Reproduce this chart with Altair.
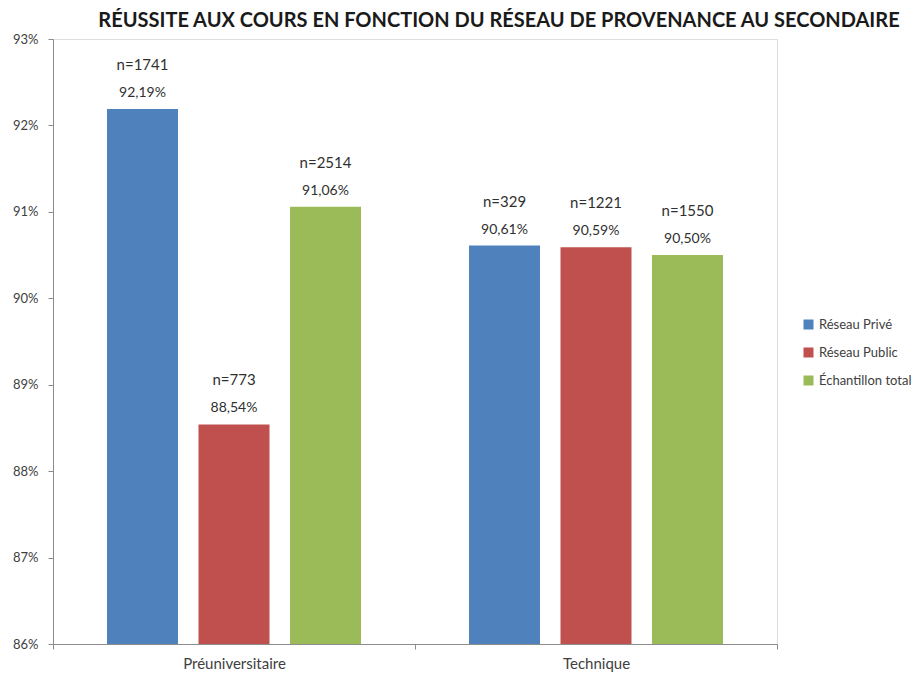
import altair as alt
import pandas as pd

programmes = ["Préuniversitaire", "Préuniversitaire", "Préuniversitaire",
              "Technique", "Technique", "Technique"]
series = ["Réseau Privé", "Réseau Public", "Échantillon total",
          "Réseau Privé", "Réseau Public", "Échantillon total"]
taux = [92.19, 88.54, 91.06, 90.61, 90.59, 90.50]
n_labels = ["n=1741", "n=773", "n=2514", "n=329", "n=1221", "n=1550"]
pct_labels = ["92,19%", "88,54%", "91,06%", "90,61%", "90,59%", "90,50%"]

programme_order = ["Préuniversitaire", "Technique"]
series_order = ["Réseau Privé", "Réseau Public", "Échantillon total"]
series_colors = ["#4F81BD", "#C0504D", "#9BBB59"]
y_ticks = [86, 87, 88, 89, 90, 91, 92, 93]
title_text = ["RÉUSSITE AUX COURS EN FONCTION DU RÉSEAU DE PROVENANCE AU SECONDAIRE"]

df = pd.DataFrame({
    "programme": programmes,
    "serie": series,
    "taux": taux,
    "n_label": n_labels,
    "pct_label": pct_labels,
})

FONT = "Lato"
TXT = "#404040"

x_enc = alt.X("programme:N", sort=programme_order,
              scale=alt.Scale(paddingInner=0, paddingOuter=0),
              axis=alt.Axis(title=None, labelAngle=0, tickBand="extent",
                            domainColor="#8C8C8C", tickColor="#8C8C8C",
                            tickSize=5, labelPadding=7, labelFontSize=15,
                            labelColor=TXT, labelFont=FONT))
xo_enc = alt.XOffset("serie:N", sort=series_order,
                     scale=alt.Scale(paddingInner=0.224, paddingOuter=0.59))
y_enc = alt.Y("taux:Q",
              scale=alt.Scale(domain=[86, 93], zero=False, nice=False),
              axis=alt.Axis(title=None, values=y_ticks, grid=False,
                            labelExpr="datum.value + '%'",
                            domainColor="#8C8C8C", tickColor="#8C8C8C",
                            tickSize=5, labelPadding=10, labelFontSize=13,
                            labelColor=TXT, labelFont=FONT))

base = alt.Chart(df)

bars = base.mark_bar().encode(
    x=x_enc,
    xOffset=xo_enc,
    y=y_enc,
    y2=alt.Y2(datum=86),
    color=alt.Color("serie:N", sort=series_order,
                    scale=alt.Scale(domain=series_order, range=series_colors),
                    legend=alt.Legend(title=None, orient="none",
                                      legendX=749, legendY=279,
                                      symbolType="square", symbolSize=100,
                                      symbolStrokeWidth=0,
                                      labelFontSize=13, labelColor=TXT,
                                      labelFont=FONT, rowPadding=14,
                                      labelOffset=4)),
)

n_text = base.mark_text(dy=-44, fontSize=15, font=FONT, color="#303030").encode(
    x=alt.X("programme:N", sort=programme_order),
    xOffset=alt.XOffset("serie:N", sort=series_order),
    y="taux:Q",
    text="n_label:N",
)

pct_text = base.mark_text(dy=-16, fontSize=14, font=FONT, color="#303030").encode(
    x=alt.X("programme:N", sort=programme_order),
    xOffset=alt.XOffset("serie:N", sort=series_order),
    y="taux:Q",
    text="pct_label:N",
)

title = alt.Chart(pd.DataFrame({"t": title_text})).mark_text(
    font=FONT, fontSize=20, fontWeight="bold", color="#1a1a1a",
    align="center", baseline="middle"
).encode(x=alt.value(446), y=alt.value(-18), text="t:N")

chart = alt.layer(bars, n_text, pct_text, title).properties(
    width=724,
    height=605,
    padding={"left": 45, "top": 31, "right": 137, "bottom": 29},
    autosize=alt.AutoSizeParams(type="none"),
).configure_view(strokeWidth=0).configure(background="white")

chart.save("out.html", embed_options={"renderer": "svg", "actions": False})
